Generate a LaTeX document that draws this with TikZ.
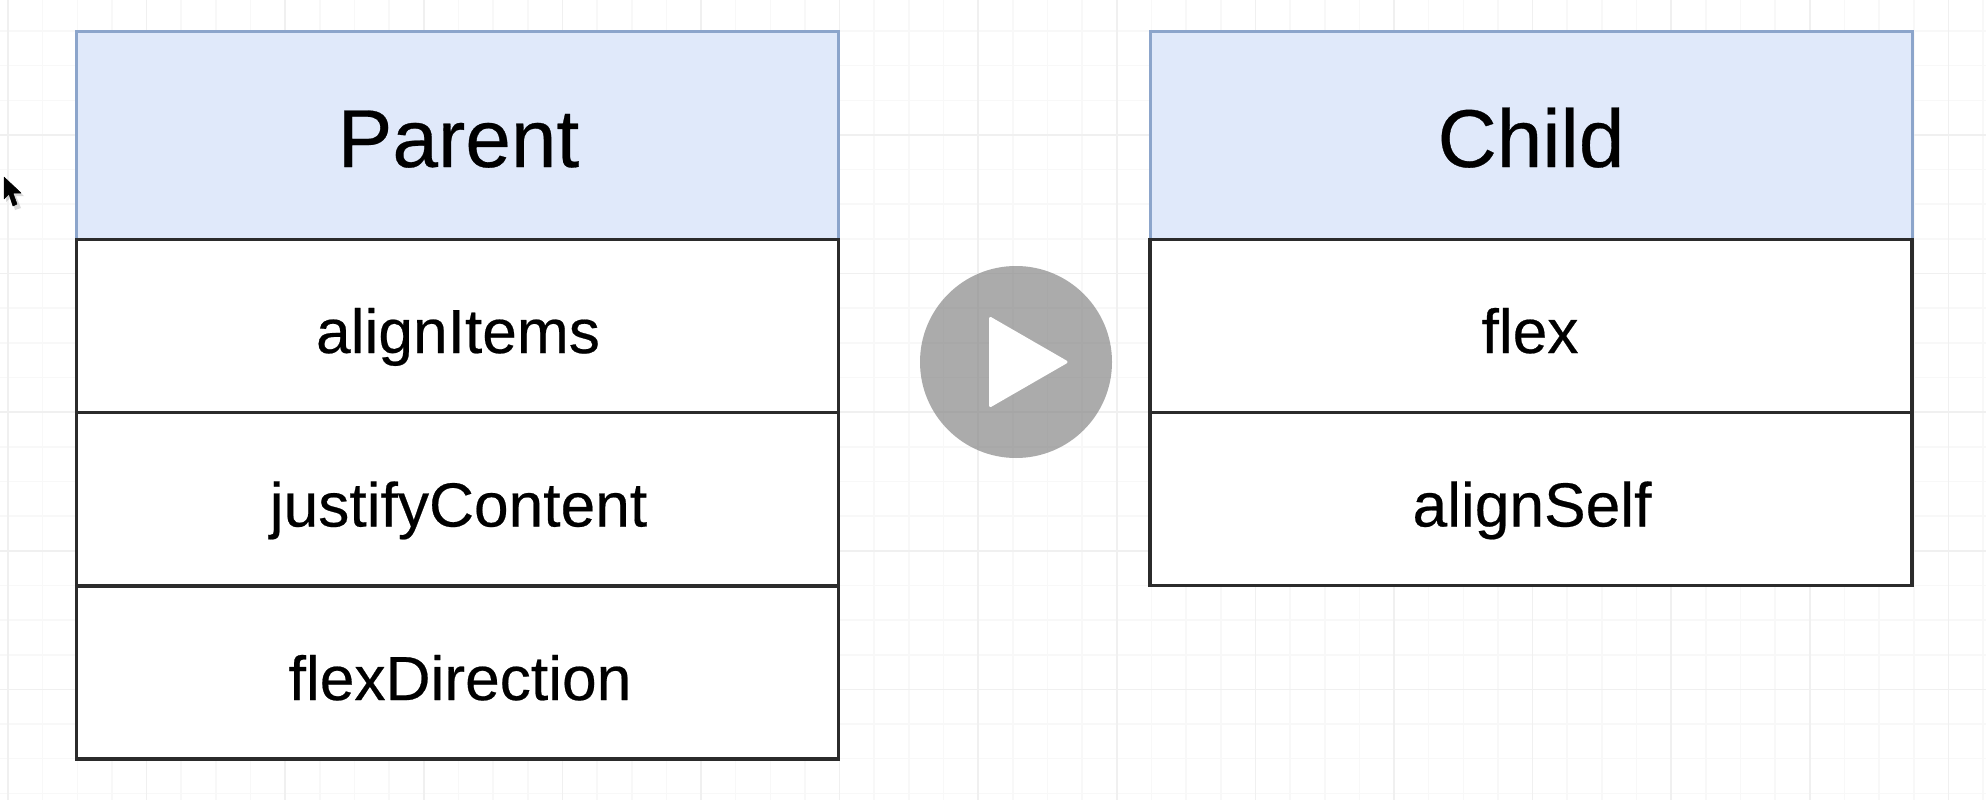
\documentclass[tikz,border=0pt]{standalone}
\usepackage{fontspec}
\setmainfont{Liberation Sans}
\newfontfamily\labelfont[FakeBold=0.35]{Liberation Sans}
\definecolor{gridminor}{HTML}{F8F8F8}
\definecolor{gridmajor}{HTML}{F0F0F0}
\definecolor{headfill}{HTML}{E0E9FA}
\definecolor{headline}{HTML}{8CA5CB}
\definecolor{rowline}{HTML}{2B2B2B}
\tikzset{
  headbox/.style={draw=headline,fill=headfill,line width=3pt,minimum width=762pt,minimum height=208pt,inner sep=0pt,outer sep=0pt,anchor=north west},
  rowbox/.style={draw=rowline,fill=white,line width=3.2pt,minimum width=762pt,minimum height=173pt,inner sep=0pt,outer sep=0pt,anchor=north west},
  headtext/.style={anchor=base,inner sep=0pt,font=\labelfont\fontsize{82}{90}\selectfont,text=black},
  rowtext/.style={anchor=base,inner sep=0pt,font=\labelfont\fontsize{62.3}{70}\selectfont,text=black},
}
\begin{document}
\begin{tikzpicture}[x=1pt,y=-1pt]
\path[use as bounding box,fill=white] (0,0) rectangle (1986,800);
\begin{scope}
\clip (0,0) rectangle (1986,800);
\foreach \k in {0,...,57} {
  \draw[gridminor,line width=1.6pt] ({8+34.65*\k},0) -- ({8+34.65*\k},800);
}
\foreach \k in {0,...,23} {
  \draw[gridminor,line width=1.6pt] (0,{31+34.65*(\k-1)}) -- (1986,{31+34.65*(\k-1)});
}
\foreach \k in {0,...,14} {
  \draw[gridmajor,line width=1.6pt] ({8+138.6*\k},0) -- ({8+138.6*\k},800);
}
\foreach \k in {0,...,5} {
  \draw[gridmajor,line width=1.6pt] (0,{-3.6+138.6*\k}) -- (1986,{-3.6+138.6*\k});
}
\end{scope}
% parent table
\node[headbox] (parenthead) at (76.5,31.5) {};
\node[rowbox] (row1) at (76.5,239.5) {};
\node[rowbox] (row2) at (76.5,412.5) {};
\node[rowbox] (row3) at (76.5,586) {};
\node[headtext] (parentlabel) at (458.5,167) {Parent};
\node[rowtext] (row1label) at (458,353) {alignItems};
\node[rowtext] (row2label) at (458.5,526.5) {justifyContent};
\node[rowtext] (row3label) at (460,700) {flexDirection};
% child table
\node[headbox] (childhead) at (1150,31.5) {};
\node[rowbox] (crow1) at (1150,239.5) {};
\node[rowbox] (crow2) at (1150,412.5) {};
\node[headtext] (childlabel) at (1531,167) {Child};
\node[rowtext] (crow1label) at (1530,353) {flex};
\node[rowtext] (crow2label) at (1532,526.5) {alignSelf};
% play button
\fill[black!50,opacity=.66] (1016,362) circle (96);
\fill[white,draw=white,line width=3pt,line join=round] (990.5,318.5) -- (1066,362) -- (990.5,405.5) -- cycle;
% cursor
\fill[black,opacity=.15] (6,179) -- (6,202) -- (11,197) -- (15,210) -- (21,208) -- (16,196) -- (24,196) -- cycle;
\fill[black,draw=black,line width=.5pt,line join=round] (4,177) -- (4,199) -- (9,194) -- (13,206) -- (17,204) -- (13,193) -- (21,193) -- cycle;
\end{tikzpicture}
\end{document}
